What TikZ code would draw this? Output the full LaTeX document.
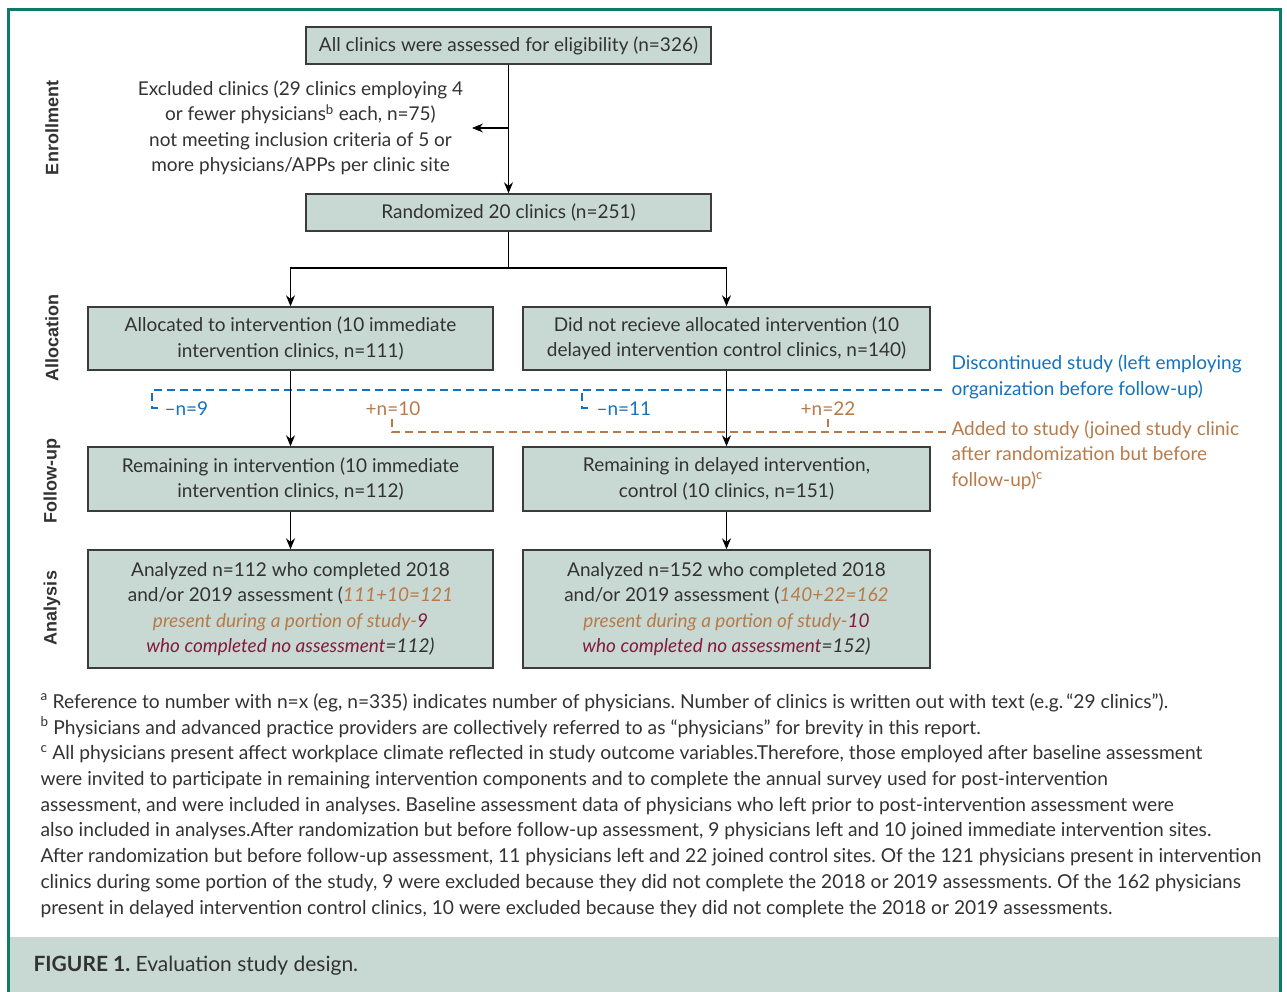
\documentclass[tikz,border=0pt]{standalone}
\usepackage{fontspec}
\setmainfont{Lato}
\newfontfamily\sidefont{Liberation Sans}
\usepackage{tikz}
\usetikzlibrary{positioning,arrows.meta}
\definecolor{boxfill}{RGB}{200,216,211}
\definecolor{boxline}{RGB}{60,60,60}
\definecolor{frameteal}{RGB}{16,122,104}
\definecolor{txtgray}{RGB}{50,50,50}
\definecolor{leftblue}{RGB}{20,114,190}
\definecolor{addorange}{RGB}{184,122,72}
\definecolor{nomaroon}{RGB}{130,28,62}
\newcommand{\orng}{\color{addorange}}
\newcommand{\mrn}{\color{nomaroon}}
\frenchspacing
\tikzset{
    stage/.style={
           rectangle,
           draw=boxline, line width=1.4pt,
           fill=boxfill,
           minimum width=405pt,
           minimum height=37pt,
           inner sep=2pt,
           align=center,
           text=txtgray,
           font=\fontsize{19}{25.5}\selectfont
           },
    phase/.style={
           rotate=90,
           font=\sidefont\bfseries\fontsize{18}{20}\selectfont,
           text=txtgray
           },
    flow/.style={-{Stealth[length=11pt,width=9pt]}, line width=1.2pt, black},
    lefttrack/.style={dashed, dash pattern=on 8pt off 5pt, line width=1.5pt, leftblue},
    addtrack/.style={dashed, dash pattern=on 8pt off 5pt, line width=1.5pt, addorange},
    note/.style={align=left, font=\fontsize{19}{25.5}\selectfont},
}
\begin{document}
\begin{tikzpicture}[x=1pt,y=-1pt]
    \useasboundingbox (0,0) rectangle (1287,992);

    % frame and caption band
    \fill[boxfill] (8,937) rectangle (1280,992);
    \draw[frameteal, line width=3pt] (8,995) -- (8,10) -- (1280,10) -- (1280,995);
    \node[anchor=west, font=\fontsize{21}{24}\selectfont, text=txtgray] (caption) at (30,966)
        {\textbf{FIGURE 1.} Evaluation study design.};

    % phase labels
    \node[phase] (enroll) at (52,128) {Enrollment};
    \node[phase] (alloc)  at (52,338) {Allocation};
    \node[phase] (follow) at (52,481) {Follow-up};
    \node[phase] (anal)   at (52,608) {Analysis};

    % enrollment
    \node[stage] (ALL) at (508.5,45.5)
        {All clinics were assessed for eligibility (n=326)};
    \node[stage,
          below of=ALL,
          node distance=167pt,
          anchor=center] (RAND)
        {Randomized 20 clinics (n=251)};
    \node[note, align=center, text=txtgray] (EXCL) at (300.5,128)
        {Excluded clinics (29 clinics employing 4\\
         or fewer physicians\textsuperscript{b} each, n=75)\\
         not meeting inclusion criteria of 5 or\\
         more physicians/APPs per clinic site};
    \coordinate (EXmid) at (508.5,128);
    \coordinate (EXtip) at (472,128);

    % allocation
    \node[stage, minimum height=63pt] (IMMa) at (290.5,338.5)
        {Allocated to intervention (10 immediate\\
         intervention clinics, n=111)};
    \node[stage, minimum height=63pt, minimum width=407pt] (DELa) at (726.5,338.5)
        {Did not recieve allocated intervention (10\\
         delayed intervention control clinics, n=140)};
    \coordinate (SPLIT) at (508.5,268);

    % follow-up
    \node[stage, minimum height=64pt] (IMMf) at (290.5,479)
        {Remaining in intervention (10 immediate\\
         intervention clinics, n=112)};
    \node[stage, minimum height=64pt, minimum width=407pt] (DELf) at (726.5,479)
        {Remaining in delayed intervention,\\
         control (10 clinics, n=151)};

    % analysis
    \node[stage, minimum height=118pt] (IMMn) at (290.5,609)
        {Analyzed n=112 who completed 2018\\
         and/or 2019 assessment (\textit{\orng 111+10=121}\\
         \textit{\orng present during a portion of study-}\textit{\mrn 9}\\
         \textit{\mrn who completed no assessment}\textit{=112)}};
    \node[stage, minimum height=118pt, minimum width=407pt] (DELn) at (726.5,609)
        {Analyzed n=152 who completed 2018\\
         and/or 2019 assessment (\textit{\orng 140+22=162}\\
         \textit{\orng present during a portion of study-}\textit{\mrn 10}\\
         \textit{\mrn who completed no assessment}\textit{=152)}};

    % dropouts and additions
    \node[note, anchor=west, text=leftblue] (LEFT) at (948,377)
        {Discontinued study (left employing\\
         organization before follow-up)};
    \node[note, anchor=west, text=addorange] (ADDED) at (948,455)
        {Added to study (joined study clinic\\
         after randomization but before\\
         follow-up)\textsuperscript{c}};
    \node[anchor=west, text=leftblue, font=\fontsize{19}{22}\selectfont] (L9)  at (161,409) {--n=9};
    \node[anchor=west, text=leftblue, font=\fontsize{19}{22}\selectfont] (L11) at (593,409) {--n=11};
    \node[text=addorange, font=\fontsize{19}{22}\selectfont] (A10) at (393,409) {+n=10};
    \node[text=addorange, font=\fontsize{19}{22}\selectfont] (A22) at (828,409) {+n=22};
    \coordinate (Lend) at (946,390);
    \coordinate (Aend) at (946,432);

    \draw[lefttrack] (158,408) -- (152,408) -- (152,390) -- (Lend);
    \draw[lefttrack] (588,408) -- (582,408) -- (582,390);
    \draw[addtrack] (392,419) -- (392,432) -- (Aend);
    \draw[addtrack] (828,419) -- (828,432);

    % flow arrows
    \draw[flow] (ALL) -- (RAND);
    \draw[flow] (EXmid) -- (EXtip);
    \draw[line width=1.2pt] (RAND) -- (SPLIT);
    \draw[flow] (SPLIT) -| (IMMa);
    \draw[flow] (SPLIT) -| (DELa);
    \draw[flow] (IMMa) -- (IMMf);
    \draw[flow] (DELa) -- (DELf);
    \draw[flow] (IMMf) -- (IMMn);
    \draw[flow] (DELf) -- (DELn);

    % footnotes
    \node[anchor=north west, align=left, text=txtgray,
          font=\fontsize{19.2}{25.7}\selectfont] (NOTES) at (37,690)
        {\textsuperscript{a} Reference to number with n=x (eg, n=335) indicates number of physicians. Number of clinics is written out with text (e.g.\,``29 clinics'').\\
         \textsuperscript{b} Physicians and advanced practice providers are collectively referred to as ``physicians'' for brevity in this report.\\
         \textsuperscript{c} All physicians present affect workplace climate reflected in study outcome variables.Therefore, those employed after baseline assessment\\
         were invited to participate in remaining intervention components and to complete the annual survey used for post-intervention\\
         assessment, and were included in analyses. Baseline assessment data of physicians who left prior to post-intervention assessment were\\
         also included in analyses.After randomization but before follow-up assessment, 9 physicians left and 10 joined immediate intervention sites.\\
         After randomization but before follow-up assessment, 11 physicians left and 22 joined control sites. Of the 121 physicians present in intervention\\
         clinics during some portion of the study, 9 were excluded because they did not complete the 2018 or 2019 assessments. Of the 162 physicians\\
         present in delayed intervention control clinics, 10 were excluded because they did not complete the 2018 or 2019 assessments.};
\end{tikzpicture}
\end{document}
